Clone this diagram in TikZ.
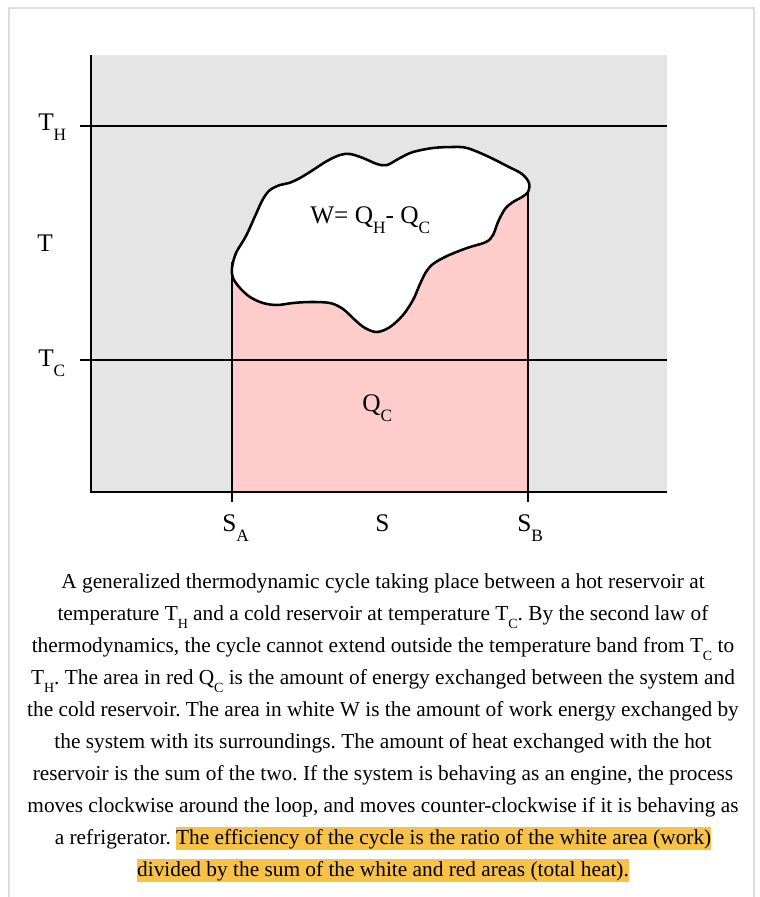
\documentclass[tikz,border=0pt]{standalone}
\usepackage{fontspec}
\setmainfont{Liberation Serif}
\frenchspacing
\definecolor{bggray}{RGB}{229,229,229}
\definecolor{pinkfill}{RGB}{255,204,204}
\definecolor{hlcol}{RGB}{248,194,72}
\definecolor{framegray}{RGB}{221,221,221}
\newcommand{\lbl}[2]{#1\raisebox{-7.5pt}{\fontsize{13}{13}\selectfont #2}}
\newcommand{\csub}[2]{#1\raisebox{-6.5pt}{\fontsize{10.5}{10.5}\selectfont #2}}
\newcommand{\hlt}[1]{{\setlength{\fboxsep}{0pt}\colorbox{hlcol}{\rule[-4.5pt]{0pt}{17.25pt}#1}}}
\tikzset{
  axisline/.style={line width=1.9pt, black},
  refline/.style={line width=1.5pt, black},
  biglabel/.style={inner sep=0pt, anchor=base west, font=\fontsize{19}{19}\selectfont},
  capline/.style={inner sep=0pt, anchor=base, font=\fontsize{16}{16}\selectfont},
}
\begin{document}
\begin{tikzpicture}[x=0.75pt, y=-0.75pt]
\useasboundingbox (0,0) rectangle (760,897);
% frame
\draw[framegray, line width=1.5pt] (9,897) -- (9,8) -- (754,8) -- (754,897);
% background panel
\fill[bggray] (91,55) rectangle (667,492);
% pink region
\fill[pinkfill] (232,492) -- (232,276) -- (528,190) -- (528,492) -- cycle;
% vertical boundaries
\draw[refline] (232,262) -- (232,492);
\draw[refline] (528,185) -- (528,492);
% blob
\draw[line width=1.9pt, fill=white] plot[smooth cycle, tension=0.55] coordinates {
(232,268) (236,253) (246,236) (256,214) (263,199) (270,190) (280,185) (289,183)
(300,178) (313,170) (327,161) (340,155) (350,154) (363,158) (377,164) (387,165)
(400,158) (413,152) (433,148) (453,147) (467,148) (487,156) (507,166) (522,174)
(529,183) (528,192) (522,197) (513,202) (505,209) (498,222) (493,235) (486,242)
(467,248) (447,256) (433,264) (426,272) (420,284) (413,300) (403,315) (390,327)
(377,332) (365,328) (355,320) (343,309) (330,303) (310,302) (293,303) (277,305)
(263,303) (250,297) (240,288) (233,278)};
% reference temperature lines
\draw[refline] (80,126) -- (667,126);
\draw[refline] (80,360) -- (667,360);
% axes
\draw[axisline] (91,55) -- (91,492) -- (667,492);
\draw[refline] (232,492) -- (232,502);
\draw[refline] (528,492) -- (528,502);
% labels
\node[biglabel] (th) at (38,130) {\lbl{T}{H}};
\node[biglabel] (t) at (37,251) {T};
\node[biglabel] (tc) at (38,366) {\lbl{T}{C}};
\node[biglabel] (sa) at (222,531) {\lbl{S}{A}};
\node[biglabel] (s) at (375,531) {S};
\node[biglabel] (sb) at (517,531) {\lbl{S}{B}};
\node[biglabel] (w) at (310,223) {W= \lbl{Q}{H}- \lbl{Q}{C}};
\node[biglabel] (qc) at (362,411) {\lbl{Q}{C}};
% caption
\node[capline] (c1) at (383,588) {A generalized thermodynamic cycle taking place between a hot reservoir at};
\node[capline] (c2) at (383,620) {temperature \csub{T}{H} and a cold reservoir at temperature \csub{T}{C}. By the second law of};
\node[capline] (c3) at (383,652) {thermodynamics, the cycle cannot extend outside the temperature band from \csub{T}{C} to};
\node[capline] (c4) at (383,684) {\csub{T}{H}. The area in red \csub{Q}{C} is the amount of energy exchanged between the system and};
\node[capline] (c5) at (383,716) {the cold reservoir. The area in white W is the amount of work energy exchanged by};
\node[capline] (c6) at (383,748) {the system with its surroundings. The amount of heat exchanged with the hot};
\node[capline] (c7) at (383,780) {reservoir is the sum of the two. If the system is behaving as an engine, the process};
\node[capline] (c8) at (383,812) {moves clockwise around the loop, and moves counter-clockwise if it is behaving as};
\node[capline] (c9) at (383,844) {a refrigerator. \hlt{The efficiency of the cycle is the ratio of the white area (work)}};
\node[capline] (c10) at (383,876) {\hlt{divided by the sum of the white and red areas (total heat).}};
\end{tikzpicture}
\end{document}
